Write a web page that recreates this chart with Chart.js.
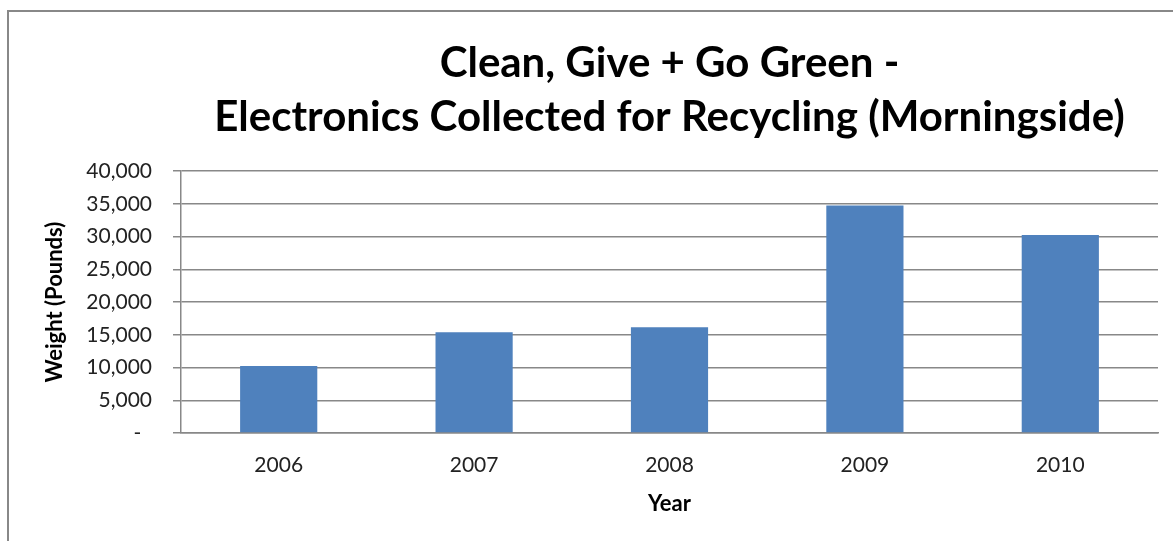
<!DOCTYPE html>
<html>
<head>
<meta charset="utf-8">
<script src="https://cdn.jsdelivr.net/npm/chart.js@4"></script>
<style>
  html, body { margin: 0; padding: 0; background: #fff; overflow: hidden; }
  #wrap { position: relative; width: 1173px; height: 541px; }
  #frame { position: absolute; left: 7px; top: 10px; width: 1200px; height: 600px; border: 2px solid #888; box-sizing: border-box; }
  #chart { position: absolute; left: 0; top: 0; }
</style>
</head>
<body>
<div id="wrap">
  <div id="frame"></div>
  <canvas id="chart" width="1173" height="541"></canvas>
</div>
<script>
const years = ["2006", "2007", "2008", "2009", "2010"];
const weights = [10230, 15400, 16150, 34750, 30250];
const yTicks = [0, 5000, 10000, 15000, 20000, 25000, 30000, 35000, 40000];

const FONT = "Lato, 'Open Sans', sans-serif";
const barColor = "#4F81BD";
const gridColor = "#888888";

function fmtTick(v) {
  if (v === 0) return "-  ";
  return v.toLocaleString("en-US");
}

new Chart(document.getElementById("chart"), {
  type: "bar",
  data: {
    labels: years,
    datasets: [{
      data: weights,
      backgroundColor: barColor,
      borderWidth: 0,
      barPercentage: 0.395,
      categoryPercentage: 1.0,
    }],
  },
  options: {
    responsive: false,
    animation: false,
    layout: { padding: { left: 30, right: 15, top: 36, bottom: 24 } },
    plugins: {
      legend: { display: false },
      tooltip: { enabled: false },
      title: {
        display: true,
        fullSize: false,
        text: ["Clean, Give + Go Green -", "Electronics Collected for Recycling (Morningside)"],
        color: "#000",
        font: { family: FONT, size: 42, weight: "bold", lineHeight: 1.3 },
        padding: { top: 0, bottom: 26 },
      },
    },
    scales: {
      x: {
        afterFit: (axis) => { axis.height = 84; },
        grid: { display: false, drawTicks: false },
        border: { display: true, color: gridColor, width: 1.5 },
        ticks: { color: "#222", font: { family: FONT, size: 21 }, padding: 20 },
        title: {
          display: true,
          text: "Year",
          color: "#000",
          font: { family: FONT, size: 22, weight: "bold" },
          padding: { top: 10, bottom: 0 },
        },
      },
      y: {
        min: 0,
        max: 40000,
        afterBuildTicks: (axis) => { axis.ticks = yTicks.map((v) => ({ value: v })); },
        afterFit: (axis) => { axis.width = 151; },
        grid: { color: gridColor, lineWidth: 1.5, tickLength: 8, drawTicks: true },
        border: { display: true, color: gridColor, width: 1.5 },
        ticks: { color: "#222", font: { family: FONT, size: 21 }, padding: 21, callback: fmtTick },
        title: {
          display: true,
          text: "Weight (Pounds)",
          color: "#000",
          font: { family: FONT, size: 22, weight: "bold" },
          padding: { top: 12, bottom: 12 },
        },
      },
    },
  },
});
</script>
</body>
</html>
